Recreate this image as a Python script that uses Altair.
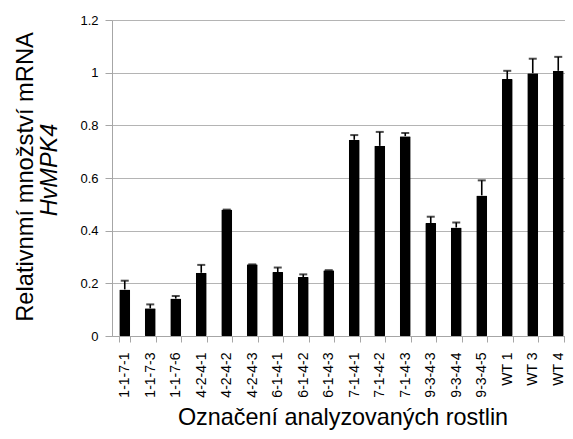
import altair as alt
import pandas as pd

categories = ["1-1-7-1", "1-1-7-3", "1-1-7-6", "4-2-4-1", "4-2-4-2", "4-2-4-3",
              "6-1-4-1", "6-1-4-2", "6-1-4-3", "7-1-4-1", "7-1-4-2", "7-1-4-3",
              "9-3-4-3", "9-3-4-4", "9-3-4-5", "WT 1", "WT 3", "WT 4"]
values = [0.177, 0.105, 0.142, 0.240, 0.480, 0.272, 0.243, 0.224, 0.250,
          0.745, 0.722, 0.759, 0.429, 0.412, 0.534, 0.976, 0.998, 1.007]
errors = [0.033, 0.015, 0.010, 0.030, 0.0, 0.0, 0.017, 0.010, 0.0,
          0.018, 0.053, 0.012, 0.024, 0.019, 0.057, 0.031, 0.055, 0.053]
y_ticks = [0, 0.2, 0.4, 0.6, 0.8, 1.0, 1.2]

x_title = "Označení analyzovaných rostlin"
y_title_1 = "Relativnmí množství mRNA"
y_title_2 = "HvMPK4"

df = pd.DataFrame({"cat": categories, "val": values, "err": errors})
df["top"] = df["val"] + df["err"]

W, H = 453, 316
XRANGE = 459
FONT = "Liberation Sans"

xscale = alt.Scale(domain=categories, range=[0, XRANGE], paddingInner=0.57, paddingOuter=0.285)
yscale = alt.Scale(domain=[0, 1.2], nice=False)

x_enc = alt.X("cat:N", scale=xscale, sort=categories,
              axis=alt.Axis(title=None, labelAngle=-90, labelFontSize=14, labelFont=FONT,
                            labelColor="#000000", labelPadding=10, tickSize=6,
                            tickBand="extent", domainColor="#a6a6a6", tickColor="#a6a6a6",
                            grid=False, labelBaseline="middle"))
y_enc = alt.Y("val:Q", scale=yscale,
              axis=alt.Axis(title=None, values=y_ticks, labelFontSize=13, labelFont=FONT,
                            labelColor="#000000", labelPadding=7, tickSize=7,
                            domainColor="#a6a6a6", tickColor="#a6a6a6",
                            gridColor="#b4b4b4", grid=True, labelExpr="format(datum.value, '~g')"))

bars = alt.Chart(df).mark_bar(color="#000000", cornerRadius=1).encode(x=x_enc, y=y_enc)

rules = alt.Chart(df).mark_rule(color="#000000", strokeWidth=1.6).encode(
    x=alt.X("cat:N", scale=xscale, sort=categories),
    y=alt.Y("val:Q", scale=yscale),
    y2="top:Q")

caps = alt.Chart(df).mark_tick(color="#000000", thickness=2, size=8, orient="horizontal").encode(
    x=alt.X("cat:N", scale=xscale, sort=categories),
    y=alt.Y("top:Q", scale=yscale))

tdf = pd.DataFrame({"t1": [y_title_1], "t2": [y_title_2], "tx": [x_title]})

yt1 = alt.Chart(tdf).mark_text(angle=270, fontSize=23.7, font=FONT, align="center",
                               baseline="alphabetic", color="#000000").encode(
    text="t1:N", x=alt.value(-79), y=alt.value(157))
yt2 = alt.Chart(tdf).mark_text(angle=270, fontSize=23.5, font=FONT, fontStyle="italic",
                               align="center", baseline="alphabetic", color="#000000").encode(
    text="t2:N", x=alt.value(-55), y=alt.value(150))
xt = alt.Chart(tdf).mark_text(fontSize=23.4, font=FONT, align="center",
                              baseline="alphabetic", color="#000000").encode(
    text="tx:N", x=alt.value(231), y=alt.value(405))

chart = alt.layer(bars, rules, caps, yt1, yt2, xt).properties(
    width=W, height=H,
    autosize=alt.AutoSizeParams(type="none"),
    padding={"left": 104, "top": 12, "right": 0, "bottom": 95},
).configure_view(stroke=None).configure(background="#ffffff")

chart.save("out.html", embed_options={"renderer": "svg", "actions": False})
